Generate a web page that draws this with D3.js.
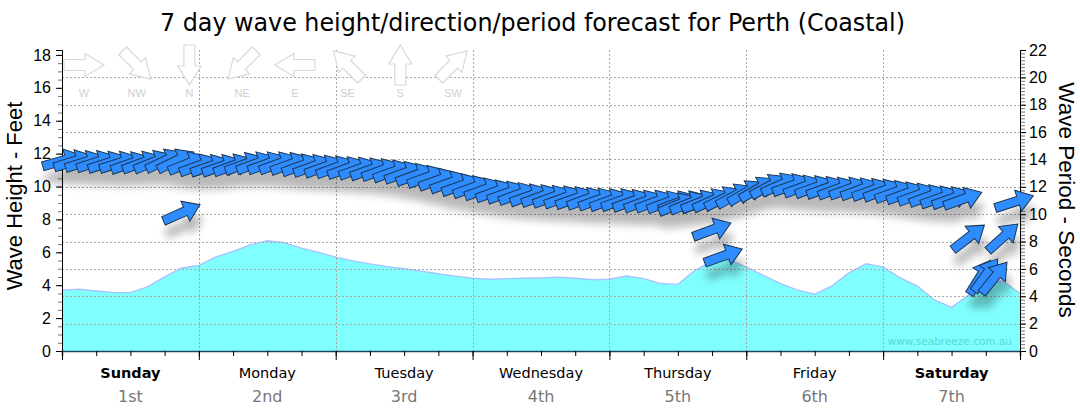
<!DOCTYPE html>
<html><head><meta charset="utf-8">
<script src="https://cdn.jsdelivr.net/npm/d3@7"></script>
<style>body{margin:0;background:#fff}svg{display:block}</style>
</head><body><svg id="c" width="1080" height="414"></svg>
<script>
// ---------- DATA ----------
const titleText = "7 day wave height/direction/period forecast for Perth (Coastal)";
const dayNames = ["Sunday","Monday","Tuesday","Wednesday","Thursday","Friday","Saturday"];
const dayDates = ["1st","2nd","3rd","4th","5th","6th","7th"];
const boldDays = ["Sunday","Saturday"];
const heightTicks = [0,2,4,6,8,10,12,14,16,18];
const periodTicks = [0,2,4,6,8,10,12,14,16,18,20,22];
const compassLabels = ["W","NW","N","NE","E","SE","S","SW"];
const compassFrom = [270,315,0,45,90,135,180,225];

// wave height (ft), 3-hourly from Sunday 00:00
const areaHours = [0,3,6,9,12,15,18,21,24,27,30,33,36,39,42,45,48,51,54,57,60,63,66,69,72,75,78,81,84,87,90,93,96,99,102,105,108,111,114,117,120,123,126,129,132,135,138,141,144,147,150,153,156,159,162,165,168];
const waveHeightFt = [3.7,3.75,3.65,3.55,3.55,3.9,4.5,5.05,5.2,5.72,6.05,6.45,6.7,6.58,6.25,6.0,5.7,5.48,5.3,5.13,5.0,4.85,4.7,4.55,4.42,4.36,4.4,4.42,4.44,4.48,4.42,4.33,4.36,4.56,4.4,4.1,4.05,4.9,5.45,5.55,5.1,4.6,4.1,3.7,3.45,3.95,4.75,5.3,5.1,4.45,3.95,3.1,2.65,3.4,4.15,4.25,3.5];

// primary swell (period s, direction from deg), 2-hourly
const swellAHours = [0,2,4,6,8,10,12,14,16,18,20,22,24,26,28,30,32,34,36,38,40,42,44,46,48,50,52,54,56,58,60,62,64,66,68,70,72,74,76,78,80,82,84,86,88,90,92,94,96,98,100,102,104,106,108,110,112];
const swellAPeriod = [13.9,13.85,13.8,13.8,13.75,13.75,13.7,13.75,13.8,13.9,13.9,13.7,13.55,13.5,13.5,13.55,13.65,13.7,13.7,13.7,13.65,13.55,13.5,13.45,13.4,13.35,13.3,13.25,13.2,13.1,13.0,12.85,12.7,12.5,12.3,12.1,11.95,11.8,11.65,11.55,11.45,11.35,11.3,11.25,11.2,11.15,11.1,11.05,11.0,11.0,10.95,10.9,10.9,10.85,10.85,10.85,10.85];
const swellADir = [254,253,253,252,252,252,251,250,248,245,244,248,250,251,251,250,250,250,250,250,250,250,250,250,250,250,250,250,250,250,250,250,250,250,250,250,250,250,250,250,250,250,250,250,250,250,250,250,250,250,250,250,250,250,250,250,250];

// new swell from Thursday
const swellBHours = [108,110,112,114,116,118,120,122,124,126,128,130,132,134,136,138,140,142,144,146,148,150,152,154,156,158];
const swellBPeriod = [10.7,10.8,10.9,11.0,11.15,11.35,11.6,11.85,12.05,12.15,12.1,12.0,11.95,11.9,11.85,11.85,11.8,11.75,11.7,11.6,11.5,11.4,11.3,11.2,11.15,11.1];
const swellBDir = [248,248,248,246,244,242,240,240,242,246,250,250,250,250,250,250,250,250,250,250,250,250,250,250,250,250];

// secondary swell arrows
const extraHours = [21,114,116,159,161,162,163.5,165,167];
const extraPeriod = [10.1,8.85,6.95,8.3,5.4,5.55,5.35,8.3,10.9];
const extraDir = [246,250,250,232,212,216,219,228,252];

// ---------- CHART ----------
const svg = d3.select("#c");
const L = 62, R = 1020, T = 50, B = 351;
const x = d3.scaleLinear().domain([0,168]).range([L,R]);
const yH = d3.scaleLinear().domain([0,18.3]).range([B,T]);
const yP = d3.scaleLinear().domain([0,22]).range([B,T]);

const defs = svg.append("defs");
const f = defs.append("filter").attr("id","sh").attr("x","-10%").attr("y","-30%").attr("width","120%").attr("height","180%");
f.append("feGaussianBlur").attr("in","SourceAlpha").attr("stdDeviation",4.5).attr("result","b");
f.append("feOffset").attr("in","b").attr("dx",3).attr("dy",13).attr("result","o");
f.append("feComponentTransfer").attr("in","o").attr("result","s")
  .append("feFuncA").attr("type","linear").attr("slope",0.28);
const m = f.append("feMerge"); m.append("feMergeNode").attr("in","s"); m.append("feMergeNode").attr("in","SourceGraphic");

// area
const area = d3.area().x((d,i)=>x(areaHours[i])).y0(B).y1(d=>yH(d));
const line = d3.line().x((d,i)=>x(areaHours[i])).y(d=>yH(d));
svg.append("path").datum(waveHeightFt).attr("d",area).attr("fill","#80ffff");
svg.append("path").datum(waveHeightFt).attr("d",line).attr("fill","none").attr("stroke","#a8c4ff").attr("stroke-width",1.4);

// grid
const grid = svg.append("g").attr("stroke","#a8a8a8").attr("stroke-width",1).attr("stroke-dasharray","2,2");
grid.selectAll("line.h").data(periodTicks.filter(v=>v>0&&v<22)).join("line")
  .attr("x1",L).attr("x2",R).attr("y1",d=>Math.round(yP(d))+0.5).attr("y2",d=>Math.round(yP(d))+0.5);
grid.selectAll("line.v").data([24,48,72,96,120,144]).join("line")
  .attr("x1",d=>Math.round(x(d))+0.5).attr("x2",d=>Math.round(x(d))+0.5).attr("y1",T).attr("y2",B);

// watermark
svg.append("text").attr("x",1012).attr("y",345).attr("text-anchor","end")
  .attr("font-family","DejaVu Sans, sans-serif").attr("font-size",10.5).attr("fill","#5ad8d8")
  .text("www.seabreeze.com.au");

// compass legend
function arrowPath(len, hl, hw, sw){
  const a=-len/2, b=len/2, h=b-hl;
  return `M${a},${-sw}L${h},${-sw}L${h},${-hw}L${b},0L${h},${hw}L${h},${sw}L${a},${sw}Z`;
}
const leg = svg.append("g");
const legX = d3.scalePoint().domain(compassLabels).range([84,453]);
compassLabels.forEach((lab,i)=>{
  leg.append("path").attr("d",arrowPath(40,19,11.5,5.5))
    .attr("transform",`translate(${legX(lab)},65) rotate(${compassFrom[i]+90})`)
    .attr("fill","#fff").attr("stroke","#d9d9d9").attr("stroke-width",1.2);
  leg.append("text").attr("x",legX(lab)).attr("y",97).attr("text-anchor","middle")
    .attr("font-family","Liberation Sans, Arial, sans-serif").attr("font-size",11).attr("fill","#cfcfcf").text(lab);
});

// axes
const axL = svg.append("g").attr("transform",`translate(${L},0)`);
axL.call(d3.axisLeft(yH).tickValues(d3.range(0,18.3,0.5)).tickSize(4).tickFormat(""));
axL.selectAll(".tick line").attr("stroke","#777");
const axL2 = svg.append("g").attr("transform",`translate(${L},0)`);
axL2.call(d3.axisLeft(yH).tickValues(heightTicks).tickSize(6).tickPadding(5));
axL2.select(".domain").attr("stroke","#000");
axL2.selectAll("text").attr("font-family","Liberation Sans, Arial, sans-serif").attr("font-size",16).attr("fill","#000");

const axR = svg.append("g").attr("transform",`translate(${R},0)`);
axR.call(d3.axisRight(yP).tickValues(d3.range(0,22.01,0.25)).tickSize(5).tickFormat(""));
axR.selectAll(".tick line").attr("stroke","#777");
const axR2 = svg.append("g").attr("transform",`translate(${R},0)`);
axR2.call(d3.axisRight(yP).tickValues(periodTicks).tickSize(6).tickPadding(3));
axR2.select(".domain").attr("stroke","#000");
axR2.selectAll("text").attr("font-family","Liberation Sans, Arial, sans-serif").attr("font-size",16).attr("fill","#000");

const axB = svg.append("g").attr("transform",`translate(0,${B})`);
axB.call(d3.axisBottom(x).tickValues(d3.range(0,168.1,6)).tickSize(5).tickFormat(""));
axB.selectAll(".tick line").attr("stroke","#000");
axB.select(".domain").attr("stroke","#1c4560").attr("stroke-width",1.5);
const axB2 = svg.append("g").attr("transform",`translate(0,${B})`);
axB2.call(d3.axisBottom(x).tickValues([0,24,48,72,96,120,144,168]).tickSize(9).tickFormat(""));
axB2.select(".domain").remove();
axB2.selectAll(".tick line").attr("stroke","#000");

// day labels
const dl = svg.append("g").attr("font-family","DejaVu Sans, sans-serif").attr("text-anchor","middle");
dayNames.forEach((d,i)=>{
  dl.append("text").attr("x",x(i*24+12)).attr("y",378).attr("font-size",14.5)
    .attr("font-weight",boldDays.includes(d)?"bold":"normal").attr("fill","#000").text(d);
  dl.append("text").attr("x",x(i*24+12)).attr("y",402).attr("font-size",16).attr("fill","#777").text(dayDates[i]);
});

// title & axis titles
svg.append("text").attr("x",160).attr("y",31).attr("font-family","DejaVu Sans Condensed, DejaVu Sans, sans-serif")
  .attr("font-size",25).attr("textLength",745).attr("lengthAdjust","spacingAndGlyphs").attr("fill","#000").text(titleText);
svg.append("text").attr("transform","translate(22,196) rotate(-90)").attr("text-anchor","middle")
  .attr("font-family","Liberation Sans, Arial, sans-serif").attr("font-size",22).text("Wave Height - Feet");
svg.append("text").attr("transform","translate(1059,200) rotate(90)").attr("text-anchor","middle")
  .attr("font-family","Liberation Sans, Arial, sans-serif").attr("font-size",22.5).text("Wave Period - Seconds");

// swell arrows
const ag = svg.append("g").attr("filter","url(#sh)");
const ap = arrowPath(40,16,11,4.5);
function drawSeries(hours, per, dir){
  hours.forEach((h,i)=>{
    ag.append("path").attr("d",ap)
      .attr("transform",`translate(${x(h)},${yP(per[i])}) rotate(${dir[i]+90})`)
      .attr("fill","#2d8cff").attr("stroke","#1d3652").attr("stroke-width",1).attr("stroke-linejoin","miter");
  });
}
drawSeries(swellAHours, swellAPeriod, swellADir);
drawSeries(swellBHours, swellBPeriod, swellBDir);
drawSeries(extraHours, extraPeriod, extraDir);
</script></body></html>
